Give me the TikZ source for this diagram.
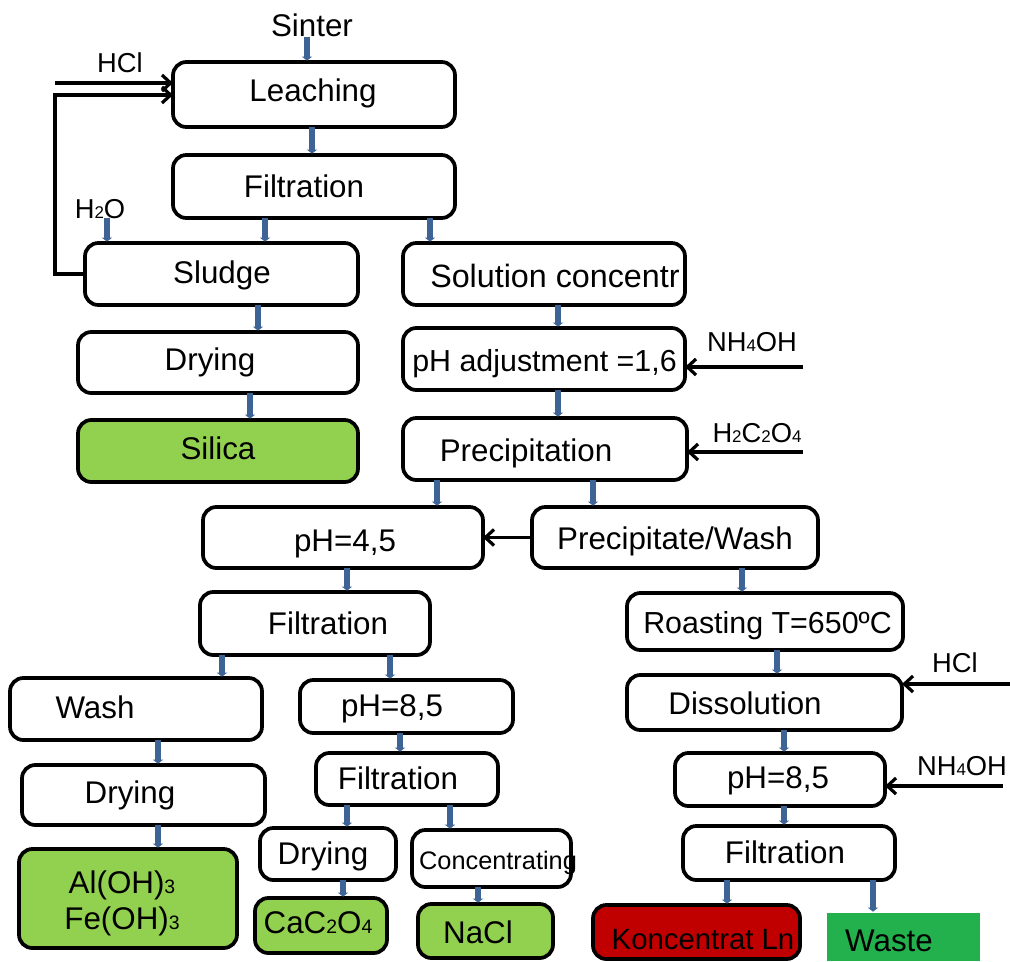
\documentclass[tikz,border=0pt]{standalone}
\usepackage{fontspec}
\setmainfont{Liberation Sans}
\usetikzlibrary{arrows.meta}
\definecolor{barblue}{RGB}{62,100,150}
\definecolor{lgreen}{RGB}{146,208,80}
\definecolor{wgreen}{RGB}{34,177,76}
\definecolor{kred}{RGB}{192,0,0}
\newcommand\sbs[1]{\scalebox{0.62}{#1}}
% #1 extra style, #2 name, #3 x1, #4 y1, #5 x2, #6 y2
\newcommand\pbox[6][]{%
  \node[boxst,#1,minimum width={(#5-#3)*0.75},minimum height={(#6-#4)*0.75}] (#2) at ({(#3+#5)/2},{(#4+#6)/2}) {};}
\tikzset{
  boxst/.style={draw=black, line width=2.8pt, rounded corners=10pt, fill=white, inner sep=0pt, outer sep=0pt},
  prod/.style={fill=lgreen},
  bar/.style={draw=barblue, line width=4.4pt, -{Triangle[length=3pt,width=7.5pt]}, shorten >=1pt},
  blk/.style={draw=black, line width=2.4pt, -{Straight Barb[length=6.5pt,width=12pt]}},
  txt/.style={font=\fontsize{23.5}{26}\selectfont, inner sep=0pt, text height=17pt, text depth=0pt},
  lbl/.style={font=\fontsize{20.5}{22}\selectfont, inner sep=0pt, text height=15pt, text depth=0pt},
}
\begin{document}
\begin{tikzpicture}[x=0.75pt,y=-0.75pt]
\useasboundingbox (0,0) rectangle (1010,961);
% boxes
\pbox{leach}{173}{62}{455}{127}
\pbox{filtA}{173}{155}{455}{218}
\pbox{sludge}{85}{243}{358}{305}
\pbox{sol}{403}{243}{685}{305}
\pbox{dryA}{78}{332}{358}{393}
\pbox[prod]{silica}{78}{420}{358}{482}
\pbox{phadj}{403}{328}{685}{390}
\pbox{prec}{403}{418}{687}{480}
\pbox{phA}{203}{507}{483}{568}
\pbox{pw}{532}{507}{818}{568}
\pbox{filtB}{200}{592}{430}{655}
\pbox{roast}{627}{593}{903}{650}
\pbox{wash}{10}{678}{262}{740}
\pbox{phB}{300}{680}{513}{733}
\pbox{dryB}{22}{765}{265}{825}
\pbox{filtC}{316}{753}{498}{805}
\pbox{dryC}{260}{828}{396}{880}
\pbox{conc}{412}{830}{571}{887}
\pbox[prod]{alfe}{19}{849}{237}{948}
\pbox[prod]{caco}{255}{898}{387}{953}
\pbox[prod]{nacl}{418}{904}{553}{958}
\pbox{diss}{627}{675}{902}{730}
\pbox{phC}{675}{753}{885}{806}
\pbox{filtD}{683}{826}{895}{880}
\pbox[fill=kred]{kon}{593}{905}{800}{959}
\pbox[fill=wgreen,draw=none,rounded corners=0pt]{waste}{827}{913}{980}{961}
% texts
\node[txt] (sinterT) at (312,25) {Sinter};
\node[txt] (leachT) at (313,90) {Leaching};
\node[txt] (filtAT) at (304,186) {Filtration};
\node[txt] (sludgeT) at (222,272) {Sludge};
\node[txt,anchor=west,font=\fontsize{24.2}{26}\selectfont] (solT) at (430,276) {Solution concentr};
\node[txt,anchor=west,font=\fontsize{22.8}{26}\selectfont] (phadjT) at (412,360) {pH adjustment =1,6};
\node[txt] (dryAT) at (210,359) {Drying};
\node[txt] (silicaT) at (218,448) {Silica};
\node[txt] (precT) at (526,450) {Precipitation};
\node[txt] (phAT) at (345,540) {pH=4,5};
\node[txt] (pwT) at (675,538) {Precipitate/Wash};
\node[txt] (filtBT) at (328,623) {Filtration};
\node[txt,anchor=west,font=\fontsize{22.8}{26}\selectfont] (roastT) at (643,622) {Roasting T=650ºC};
\node[txt] (washT) at (95,707) {Wash};
\node[txt] (phBT) at (392,705) {pH=8,5};
\node[txt] (dryBT) at (130,792) {Drying};
\node[txt] (filtCT) at (398,778) {Filtration};
\node[txt] (dryCT) at (323,853) {Drying};
\node[txt,font=\fontsize{19}{20}\selectfont] (concT) at (498,858) {Concentrating};
\node[txt] (alT) at (122,882) {Al(OH)\sbs{3}};
\node[txt] (feT) at (122,918) {Fe(OH)\sbs{3}};
\node[txt] (cacoT) at (318,922) {CaC\sbs{2}O\sbs{4}};
\node[txt] (naclT) at (478,932) {NaCl};
\node[txt] (dissT) at (745,703) {Dissolution};
\node[txt] (phCT) at (778,777) {pH=8,5};
\node[txt] (filtDT) at (785,852) {Filtration};
\node[txt,font=\fontsize{22}{24}\selectfont] (konT) at (703,938) {Koncentrat Ln};
\node[txt] (wasteT) at (889,940) {Waste};
% labels
\node[lbl] (hclA) at (120,62) {HCl};
\node[lbl] (h2o) at (100,208) {H\sbs{2}O};
\node[lbl] (nh4A) at (752,341) {NH\sbs{4}OH};
\node[lbl] (oxal) at (757,432) {H\sbs{2}C\sbs{2}O\sbs{4}};
\node[lbl] (hclB) at (955,662) {HCl};
\node[lbl] (nh4B) at (962,765) {NH\sbs{4}OH};
% free ends
\coordinate (hclAin) at (55,83);
\coordinate (fb) at (55,95);
\coordinate (nh4Ain) at (803,367);
\coordinate (oxin) at (803,452);
\coordinate (hclBin) at (1010,684);
\coordinate (nh4Bin) at (1003,786);
% blue connectors
\draw[bar] (sinterT.south -| 307,0) -- (leach.north -| 307,0);
\draw[bar] (leach.south -| 312,0) -- (filtA.north -| 312,0);
\draw[bar] (filtA.south -| 265,0) -- (sludge.north -| 265,0);
\draw[bar] (filtA.south -| 430,0) -- (sol.north -| 430,0);
\draw[bar] (h2o.south -| 107,0) -- (sludge.north -| 107,0);
\draw[bar] (sludge.south -| 258,0) -- (dryA.north -| 258,0);
\draw[bar] (dryA.south -| 250,0) -- (silica.north -| 250,0);
\draw[bar] (sol.south -| 558,0) -- (phadj.north -| 558,0);
\draw[bar] (phadj.south -| 558,0) -- (prec.north -| 558,0);
\draw[bar] (prec.south -| 437,0) -- (phA.north -| 437,0);
\draw[bar] (prec.south -| 593,0) -- (pw.north -| 593,0);
\draw[bar] (phA.south -| 347,0) -- (filtB.north -| 347,0);
\draw[bar] (pw.south -| 742,0) -- (roast.north -| 742,0);
\draw[bar] (filtB.south -| 222,0) -- (wash.north -| 222,0);
\draw[bar] (filtB.south -| 390,0) -- (phB.north -| 390,0);
\draw[bar] (wash.south -| 158,0) -- (dryB.north -| 158,0);
\draw[bar] (phB.south -| 400,0) -- (filtC.north -| 400,0);
\draw[bar] (dryB.south -| 158,0) -- (alfe.north -| 158,0);
\draw[bar] (filtC.south -| 347,0) -- (dryC.north -| 347,0);
\draw[bar] (filtC.south -| 450,0) -- (conc.north -| 450,0);
\draw[bar] (dryC.south -| 343,0) -- (caco.north -| 343,0);
\draw[bar] (conc.south -| 478,0) -- (nacl.north -| 478,0);
\draw[bar] (roast.south -| 777,0) -- (diss.north -| 777,0);
\draw[bar] (diss.south -| 784,0) -- (phC.north -| 784,0);
\draw[bar] (phC.south -| 784,0) -- (filtD.north -| 784,0);
\draw[bar] (filtD.south -| 727,0) -- (kon.north -| 727,0);
\draw[bar] (filtD.south -| 873,0) -- (waste.north -| 873,0);
% black arrows
\draw[blk] (hclAin) -- (leach.west |- hclAin);
\draw[blk] (sludge.west) -| (fb) -- (leach.west |- fb);
\draw[blk] (nh4Ain) -- (phadj.east |- nh4Ain);
\draw[blk] (oxin) -- (prec.east |- oxin);
\draw[blk] (pw.west) -- (phA.east);
\draw[blk] (hclBin) -- (diss.east |- hclBin);
\draw[blk] (nh4Bin) -- (phC.east |- nh4Bin);
\end{tikzpicture}
\end{document}
